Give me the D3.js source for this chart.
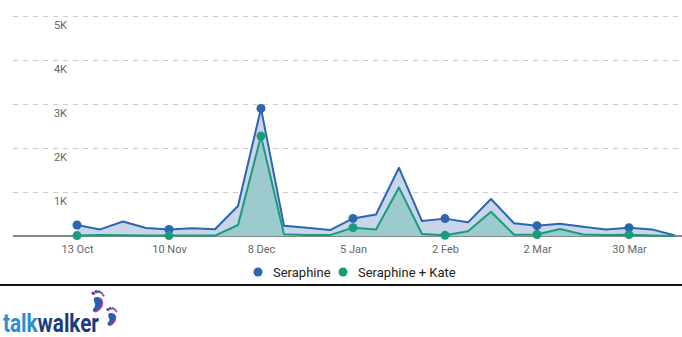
<!DOCTYPE html>
<html><head><meta charset="utf-8">
<script src="https://cdn.jsdelivr.net/npm/d3@7/dist/d3.min.js"></script>
<style>body{margin:0;background:#fff;}svg{display:block;font-family:Roboto,"Noto Sans",sans-serif;}</style>
</head><body>
<script>
const startDate = "2018-10-13";
const seraphine = [250,150,330,180,150,175,155,680,2900,235,190,135,400,490,1550,340,395,310,840,290,235,280,210,150,190,150,10];
const seraphineKate = [10,20,15,10,10,10,10,250,2270,40,20,20,190,150,1100,45,15,110,550,30,35,160,35,25,30,10,0];
const yTicks = [1000,2000,3000,4000,5000];
const tickLabels = ["13 Oct","10 Nov","8 Dec","5 Jan","2 Feb","2 Mar","30 Mar"];
const seriesNames = ["Seraphine","Seraphine + Kate"];
const colors = ["#2c66b0","#1a9b7b"];
const fills = ["#c9d6ea","#9ccacd"];

const W=682,H=337;
const svg=d3.select("body").append("svg").attr("width",W).attr("height",H);
const t0=d3.timeParse("%Y-%m-%d")(startDate);
const dates=seraphine.map((d,i)=>d3.timeWeek.offset(t0,i));
const x=d3.scaleTime().domain([dates[0],dates[dates.length-1]]).range([77,675]);
const y=d3.scaleLinear().domain([0,5000]).range([236,16]);

// gridlines
svg.append("g").selectAll("line").data(yTicks).join("line")
 .attr("x1",13).attr("x2",682).attr("y1",d=>Math.round(y(d))+0.5).attr("y2",d=>Math.round(y(d))+0.5)
 .attr("stroke","#cccccc").attr("stroke-dasharray","5,5");
svg.append("g").selectAll("text").data(yTicks).join("text")
 .attr("x",67).attr("y",d=>y(d)+13).attr("text-anchor","end")
 .attr("font-size",11).attr("fill","#666").text(d=>d/1000+"K");

// x axis
const tickDates=tickLabels.map((l,i)=>d3.timeWeek.offset(t0,i*4));
const xAxis=d3.axisBottom(x).tickValues(tickDates).tickFormat((d,i)=>tickLabels[i]).tickSize(0).tickPadding(0);
const gx=svg.append("g").attr("transform","translate(0,236)").call(xAxis);
gx.select(".domain").remove();
gx.selectAll("text").attr("font-size",11).attr("fill","#666").attr("font-family","Roboto").attr("dy",null).attr("y",16.5);
svg.append("line").attr("x1",13).attr("x2",682).attr("y1",236).attr("y2",236).attr("stroke","#808a8a").attr("stroke-width",2);

const series=[seraphine,seraphineKate];
series.forEach((s,k)=>{
  const area=d3.area().x((d,i)=>x(dates[i])).y0(y(0)).y1(d=>y(d));
  svg.append("path").datum(s).attr("d",area).attr("fill",fills[k]);
});
series.forEach((s,k)=>{
  const line=d3.line().x((d,i)=>x(dates[i])).y(d=>y(d));
  svg.append("path").datum(s).attr("d",line).attr("fill","none").attr("stroke",colors[k]).attr("stroke-width",2).attr("stroke-linejoin","round");
});
series.forEach((s,k)=>{
  svg.append("g").selectAll("circle").data(s.map((v,i)=>[i,v]).filter(d=>d[0]%4===0)).join("circle")
   .attr("cx",d=>x(dates[d[0]])).attr("cy",d=>y(d[1])).attr("r",4.5).attr("fill",colors[k]);
});

// legend
const lg=svg.append("g");
const lx=[258,343];
seriesNames.forEach((n,k)=>{
  lg.append("circle").attr("cx",lx[k]).attr("cy",272).attr("r",4.5).attr("fill",colors[k]);
  lg.append("text").attr("x",lx[k]+15).attr("y",276.5).attr("font-size",13).attr("fill","#222").text(n);
});

// separator
svg.append("line").attr("x1",0).attr("x2",682).attr("y1",285).attr("y2",285).attr("stroke","#111").attr("stroke-width",2);

// logo
const logoG=svg.append("g");
const logo=logoG.append("text").attr("x",0).attr("y",0).attr("font-size",25).attr("font-weight","bold")
 .attr("font-family","'Liberation Sans Narrow','Roboto',sans-serif");
logo.append("tspan").attr("fill","#2a8fcb").text("talk");
logo.append("tspan").attr("fill","#1c3b7e").text("walker");
const natural=logo.node().getComputedTextLength()||96;
logoG.attr("transform",`translate(3,331.5) scale(${96/natural},1)`);
function foot(g,cx,cy,s){
  const gg=g.append("g").attr("transform",`translate(${cx},${cy}) scale(${s})`);
  const body="M0,-6 C5,-6 6,-1 4,3 C2,7 -3,10 -4,8 C-5,6 -1,4 -2,1 C-3,-2 -5,-6 0,-6Z";
  gg.append("path").attr("d",body).attr("fill","#e2338c").attr("transform","translate(1.3,0.8)");
  gg.append("path").attr("d",body).attr("fill","#2a5fb0");
  [[-4,-10,1.6],[-1,-11.5,1.4],[2,-11.5,1.2],[4.5,-10,1.1],[6,-7.8,0.9]].forEach(t=>{
    gg.append("circle").attr("cx",t[0]+0.8).attr("cy",t[1]+0.5).attr("r",t[2]).attr("fill","#e2338c");
    gg.append("circle").attr("cx",t[0]).attr("cy",t[1]).attr("r",t[2]).attr("fill","#2a5fb0");
  });
}
foot(svg,97,303,1);
foot(svg,111,318,0.85);
</script>
</body></html>
